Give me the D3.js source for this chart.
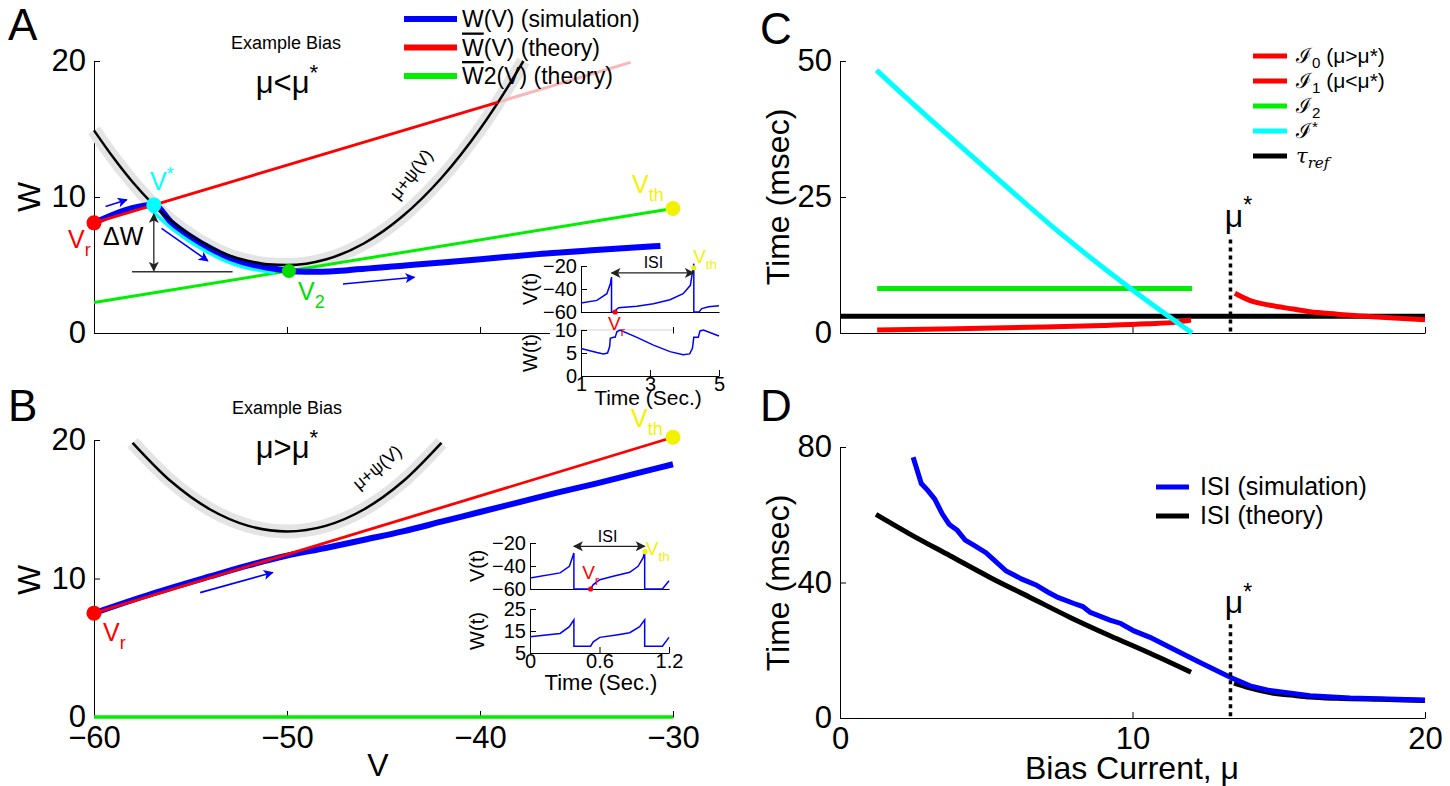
<!DOCTYPE html>
<html>
<head>
<meta charset="utf-8">
<script src="https://cdn.jsdelivr.net/npm/d3@7"></script>
<style>
  body { margin: 0; background: #fff; }
  text { font-family: "Liberation Sans", Arial, Helvetica, sans-serif; }
</style>
</head>
<body>
<svg id="fig" width="1450" height="786"></svg>
<script>
// ---------------- Panel A : example bias mu < mu* ----------------
const nullA_V = [-60, -59, -58, -57, -56, -55, -54, -53, -52, -51, -50, -49, -48, -46, -44, -42, -40, -38, -37.75];
const nullA_W = [14.9, 12.9, 11.1, 9.55, 8.25, 7.2, 6.35, 5.7, 5.3, 5.05, 5.0, 5.1, 5.4, 6.6, 8.6, 11.4, 15.0, 19.4, 20.0];
const simA_V = [-60, -56.9, -56, -55, -54, -53, -52, -51, -50, -49.5, -48.5, -47, -46.4, -44, -41.8, -39, -37, -34, -30.65];
const simA_W = [8.1, 9.42, 8.15, 7.1, 6.25, 5.55, 5.1, 4.8, 4.6, 4.52, 4.5, 4.6, 4.68, 4.95, 5.2, 5.55, 5.8, 6.1, 6.4];
const stableA_V = [-57, -56, -55, -54, -53, -52, -51, -50.5];
const stableA_W = [9.35, 8.05, 7.0, 6.15, 5.45, 5.0, 4.72, 4.62];
const theoryA_V = [-60, -39.05];
const theoryA_W = [8.1, 16.98];
const theoryA_fadeV = [-39.05, -32.2];
const theoryA_fadeW = [16.98, 19.9];
const theory2A_V = [-60, -30];
const theory2A_W = [2.24, 9.15];
const pointsA = { vr: [-60, 8.1], vstar: [-56.9, 9.42], v2: [-49.9, 4.55], vth: [-30, 9.15] };
const arrowsA = [[-59.4, 9.3, -58.3, 9.8], [-56.5, 7.7, -54.1, 5.3], [-47.1, 3.6, -43.4, 4.1]];

// inset A traces
const insetA_tV = [1, 1.46, 1.75, 1.85, 1.885, 1.885, 1.99, 2.02, 2.09, 2.62, 3.1, 3.58, 3.96, 4.17, 4.27, 4.27, 4.42, 4.5, 4.7, 5];
const insetA_V = [-52.2, -49.9, -44.1, -35.4, -29.6, -60, -60, -58, -56.2, -55.1, -52.8, -49.3, -44.1, -36.8, -18, -60, -60, -57, -55.5, -54.5];
const insetA_tW = [1, 1.46, 1.65, 1.77, 1.83, 1.85, 1.94, 1.99, 2.04, 2.13, 2.62, 3.1, 3.58, 3.96, 4.15, 4.23, 4.27, 4.4, 4.45, 4.55, 5];
const insetA_W = [6.0, 5.1, 4.8, 5.0, 6.4, 8.2, 8.4, 8.4, 9.6, 10.0, 8.4, 6.7, 5.3, 4.6, 4.8, 6.0, 8.4, 8.4, 9.8, 10.0, 8.7];

// ---------------- Panel B : example bias mu > mu* ----------------
const nullB_V = [-58, -56, -54, -52, -50, -48, -46, -44, -42];
const nullB_W = [19.8, 17.0, 15.0, 13.8, 13.4, 13.8, 15.0, 17.0, 19.8];
const simB_V = [-60, -57, -54, -52, -50, -48, -46, -44, -42, -40, -38, -36, -34, -32, -30];
const simB_W = [7.5, 8.9, 10.15, 10.95, 11.65, 12.2, 12.8, 13.4, 14.1, 14.8, 15.5, 16.2, 16.85, 17.55, 18.25];
const theoryB_V = [-60, -30];
const theoryB_W = [7.5, 20.2];
const theory2B_V = [-60, -30];
const theory2B_W = [0, 0];
const pointsB = { vr: [-60, 7.5], vth: [-30, 20.2] };
const arrowsB = [[-54.5, 8.98, -50.74, 10.44]];

// inset B traces
const insetB_tV = [0, 0.26, 0.34, 0.379, 0.379, 0.523, 0.546, 0.603, 0.718, 0.861, 0.933, 0.976, 0.99, 0.99, 1.143, 1.2];
const insetB_V = [-50.4, -46, -40.3, -28.7, -60, -60, -56.2, -51.9, -49, -45.5, -40.3, -33, -27.8, -60, -60, -52.8];
const insetB_tW = [0, 0.26, 0.34, 0.379, 0.379, 0.523, 0.546, 0.603, 0.746, 0.861, 0.947, 0.99, 0.99, 1.143, 1.2];
const insetB_W = [12.4, 13.9, 17.0, 20.1, 8.1, 8.1, 10.1, 12.1, 13.2, 14.2, 17.0, 20.1, 8.1, 8.1, 12.1];

// ---------------- Panel C : time components vs bias ----------------
const muStar = 13.35;
const i0_mu = [13.5, 14, 14.7, 15.5, 16.07, 17, 17.44, 18.5, 20];
const i0_T = [7.3, 6.0, 5.1, 4.4, 3.9, 3.45, 3.25, 2.9, 2.45];
const i1_mu = [1.27, 4, 7, 9, 10.5, 11.5, 12];
const i1_T = [0.55, 0.8, 1.1, 1.4, 1.7, 2.0, 2.4];
const i2_mu = [1.27, 12.04];
const i2_T = [8.2, 8.2];
const iStar_mu = [1.25, 3, 5.4, 7.54, 10, 12.04];
const iStar_T = [48.3, 39.7, 28.3, 18.3, 7.9, 0];
const tauRef_mu = [0, 20];
const tauRef_T = [3.1, 3.1];

// ---------------- Panel D : ISI vs bias ----------------
const isiSim_mu = [2.5, 2.78, 3.0, 3.24, 3.5, 3.73, 4.01, 4.28, 4.6, 4.99, 5.27, 5.68, 5.95, 6.22, 6.7, 7.1, 7.45, 8.0, 8.3, 8.55, 9.23, 9.6, 10.05, 10.6, 11.29, 12.24, 13.34, 14.02, 14.7, 16.07, 17.44, 20];
const isiSim_T = [77, 69.2, 67.2, 64.6, 60.2, 57.2, 55.4, 52.5, 50.9, 48.8, 46.6, 43.4, 42.2, 41, 39.3, 37.2, 35.6, 33.8, 32.9, 31.2, 28.9, 27.9, 25.7, 23.8, 20.8, 16.7, 12, 9.5, 8.1, 6.6, 5.9, 5.3];
const isiTh1_mu = [1.23, 2.39, 3.76, 5.13, 6.5, 7.87, 9.23, 10.6, 12.0];
const isiTh1_T = [60.1, 54.3, 47.9, 41.5, 35.6, 29.7, 24.3, 19.1, 13.5];
const isiTh2_mu = [13.47, 14.0, 14.7, 15.5, 16.07, 17, 18.5, 20];
const isiTh2_T = [10.3, 8.9, 7.5, 6.7, 6.2, 5.8, 5.5, 5.2];

// tick values
const ticksV = [-60, -50, -40, -30];
const ticksW = [0, 10, 20];
const ticksMu = [0, 10, 20];
const ticksC = [0, 25, 50];
const ticksD = [0, 40, 80];
const ticksInsetAV = [-60, -40, -20];
const ticksInsetAW = [0, 5, 10];
const ticksInsetAT = [1, 3, 5];
const ticksInsetBV = [-60, -40, -20];
const ticksInsetBW = [5, 15, 25];
const ticksInsetBT = [0, 0.6, 1.2];

// ---------------- drawing ----------------
const COL = { blue: "#0000ff", red: "#ff0000", green: "#00ee00", cyan: "#00ffff", yellow: "#f2f200", gray: "#e4e4e4", pink: "#f6b8b8" };
const fmt = d3.format("~g");
const svg = d3.select("#fig");
const defs = svg.append("defs");
function marker(id, color, w, h) {
  defs.append("marker").attr("id", id).attr("viewBox", "0 0 10 10").attr("refX", 9).attr("refY", 5)
    .attr("markerWidth", w).attr("markerHeight", h).attr("markerUnits", "userSpaceOnUse")
    .attr("orient", "auto-start-reverse")
    .append("path").attr("d", "M0,0 L10,5 L0,10 L2.5,5 Z").attr("fill", color);
}
marker("ahBlue", COL.blue, 14, 10);
marker("ahBlack", "#222", 13, 10);

function curve(g, xs, ys, X, Y, color, width, c) {
  return g.append("path").datum(d3.zip(xs, ys))
    .attr("d", d3.line().x(d => X(d[0])).y(d => Y(d[1])).curve(c || d3.curveLinear))
    .attr("fill", "none").attr("stroke", color).attr("stroke-width", width);
}
// text with sub/superscript pieces
function rich(g, x, y, parts, size, color, anchor, shiftScale) {
  const k0 = shiftScale || 1;
  const t = g.append("text").attr("x", x).attr("y", y).attr("font-size", size)
    .attr("fill", color).attr("text-anchor", anchor || "start");
  let shift = 0;
  parts.forEach(p => {
    const s = p[0], k = p[1] || "n";
    const target = k === "sub" ? size * 0.32 * k0 : k === "sup" ? -size * 0.42 * k0 : 0;
    const ts = t.append("tspan").text(s).attr("dy", target - shift);
    if (k !== "n") ts.attr("font-size", size * 0.72);
    if (p[2]) ts.attr("style", p[2]);
    shift = target;
  });
  return t;
}
function styleAxis(ag, size) {
  ag.attr("font-family", null).attr("font-size", null);
  ag.selectAll("text").attr("font-size", size).attr("fill", "#000");
  ag.selectAll("line").attr("stroke", "#000");
  ag.select(".domain").attr("stroke", "#000");
}
function leftAxis(g, Y, x0, vals, size, pad) {
  const ag = g.append("g").attr("transform", `translate(${x0},0)`)
    .call(d3.axisLeft(Y).tickValues(vals).tickSizeInner(-6).tickSizeOuter(0).tickPadding(pad || 7).tickFormat(fmt));
  styleAxis(ag, size);
  return ag;
}
function bottomAxis(g, X, y0, vals, size, labels, pad) {
  const ax = d3.axisBottom(X).tickValues(vals).tickSizeInner(-6).tickSizeOuter(0).tickPadding(pad || 8).tickFormat(fmt);
  if (!labels) ax.tickFormat("");
  const ag = g.append("g").attr("transform", `translate(0,${y0})`).call(ax);
  styleAxis(ag, size);
  return ag;
}
function arrow(g, x1, y1, x2, y2, color, w, id, both) {
  const l = g.append("line").attr("x1", x1).attr("y1", y1).attr("x2", x2).attr("y2", y2)
    .attr("stroke", color).attr("stroke-width", w).attr("marker-end", `url(#${id})`);
  if (both) l.attr("marker-start", `url(#${id})`);
}
function dot(g, x, y, r, color) {
  g.append("circle").attr("cx", x).attr("cy", y).attr("r", r).attr("fill", color);
}
function rotText(g, x, y, angle, size, s) {
  return g.append("text").attr("transform", `translate(${x},${y}) rotate(${angle})`)
    .attr("text-anchor", "middle").attr("font-size", size).text(s);
}

// ===== Panel A =====
const gA = svg.append("g");
const xA = d3.scaleLinear([-60, -30], [94, 673]);
const yA = d3.scaleLinear([0, 20], [333, 61]);
leftAxis(gA, yA, 94, ticksW, 31, 8);
bottomAxis(gA, xA, 333, ticksV, 30, false);
rotText(gA, 40, 197, -90, 32, "W");

curve(gA, nullA_V, nullA_W, xA, yA, COL.gray, 14, d3.curveMonotoneX);
curve(gA, theory2A_V, theory2A_W, xA, yA, COL.green, 3);
curve(gA, theoryA_fadeV, theoryA_fadeW, xA, yA, COL.pink, 3);
curve(gA, stableA_V, stableA_W, xA, yA, COL.cyan, 3.5, d3.curveMonotoneX).attr("transform", "translate(-2.5,2.5)");
curve(gA, simA_V, simA_W, xA, yA, COL.blue, 6, d3.curveMonotoneX);
curve(gA, nullA_V, nullA_W, xA, yA, "#000", 2.5, d3.curveMonotoneX);
curve(gA, theoryA_V, theoryA_W, xA, yA, COL.red, 2.8);

arrowsA.forEach(a => arrow(gA, xA(a[0]), yA(a[1]), xA(a[2]), yA(a[3]), COL.blue, 1.6, "ahBlue"));
// Delta W marker
arrow(gA, xA(pointsA.vstar[0]), yA(pointsA.vstar[1]) + 9, xA(pointsA.vstar[0]), yA(4.5) - 1, "#222", 1.3, "ahBlack", true);
gA.append("line").attr("x1", xA(-58.03)).attr("x2", xA(-52.82)).attr("y1", yA(4.5)).attr("y2", yA(4.5))
  .attr("stroke", "#333").attr("stroke-width", 1.5);

dot(gA, xA(pointsA.vr[0]), yA(pointsA.vr[1]), 7.5, COL.red);
dot(gA, xA(pointsA.vstar[0]), yA(pointsA.vstar[1]), 7.5, COL.cyan);
dot(gA, xA(pointsA.v2[0]), yA(pointsA.v2[1]), 7, "#00dd00");
dot(gA, xA(pointsA.vth[0]), yA(pointsA.vth[1]), 7.5, COL.yellow);

rich(gA, 68, 248, [["V"], ["r", "sub"]], 25, COL.red);
rich(gA, 150, 190, [["V"], ["*", "sup"]], 25, COL.cyan);
rich(gA, 103, 245, [["ΔW"]], 25, "#000");
rich(gA, 298, 300, [["V"], ["2", "sub"]], 25, "#00dd00");
rich(gA, 632, 193, [["V"], ["th", "sub"]], 25, COL.yellow);
rotText(gA, 416, 178, -52, 18, "μ+ψ(V)");

gA.append("text").attr("x", 286).attr("y", 49).attr("text-anchor", "middle").attr("font-size", 18).text("Example Bias");
rich(gA, 287, 93, [["μ<μ"], ["*", "sup"]], 31, "#000", "middle");

// legend A
const legA = [["W(V) (simulation)", COL.blue, false], ["W(V) (theory)", COL.red, true], ["W2(V) (theory)", COL.green, true]];
legA.forEach((d, i) => {
  const y = 19 + i * 28.5;
  gA.append("line").attr("x1", 404).attr("x2", 457).attr("y1", y).attr("y2", y).attr("stroke", d[1]).attr("stroke-width", 6);
  const t = gA.append("text").attr("x", 462).attr("y", y + 8).attr("font-size", 23);
  t.append("tspan").text(d[0].slice(0, 1)).attr("style", d[2] ? "text-decoration: overline" : null);
  t.append("tspan").text(d[0].slice(1));
});

// inset A
const gIA = svg.append("g");
const xIA = d3.scaleLinear([1, 5], [581, 719]);
const yIAV = d3.scaleLinear([-60, -20], [312, 266]);
const yIAW = d3.scaleLinear([0, 10], [376, 330]);
gIA.append("rect").attr("x", 550).attr("y", 330).attr("width", 123).attr("height", 8).attr("fill", "#fff");
gIA.append("line").attr("x1", 550).attr("x2", 673).attr("y1", 330).attr("y2", 330).attr("stroke", "#e2e2e2").attr("stroke-width", 1.5);
leftAxis(gIA, yIAV, 581, ticksInsetAV, 20, 4);
bottomAxis(gIA, xIA, 312, [], 16, false);
leftAxis(gIA, yIAW, 581, ticksInsetAW, 20, 4);
bottomAxis(gIA, xIA, 376, ticksInsetAT, 20, true, 1);
curve(gIA, insetA_tV, insetA_V, xIA, yIAV, COL.blue, 1.5);
curve(gIA, insetA_tW, insetA_W, xIA, yIAW, COL.blue, 1.5);
arrow(gIA, xIA(1.885), yIAV(-26), xIA(4.27), yIAV(-26), "#222", 1.3, "ahBlack", true);
gIA.append("text").attr("x", xIA(3.1)).attr("y", yIAV(-22)).attr("text-anchor", "middle").attr("font-size", 16).text("ISI");
dot(gIA, xIA(1.99), yIAV(-60), 2.6, COL.red);
dot(gIA, xIA(4.27), yIAV(-21.5), 2.6, COL.yellow);
rich(gIA, xIA(1.78), yIAV(-60) + 18, [["V"], ["r", "sub"]], 19, COL.red);
rich(gIA, xIA(4.25), yIAV(-17), [["V"], ["th", "sub"]], 19, COL.yellow);
rotText(gIA, 537, 289, -90, 20, "V(t)");
rotText(gIA, 537, 353, -90, 20, "W(t)");
gIA.append("text").attr("x", 648).attr("y", 405).attr("text-anchor", "middle").attr("font-size", 21).text("Time (Sec.)");

// ===== Panel B =====
const gB = svg.append("g");
const xB = d3.scaleLinear([-60, -30], [94, 673]);
const yB = d3.scaleLinear([0, 20], [717, 440]);
leftAxis(gB, yB, 94, ticksW, 31, 8);
bottomAxis(gB, xB, 717, ticksV, 31, true, 9);
rotText(gB, 40, 580, -90, 32, "W");
gB.append("text").attr("x", 378).attr("y", 776).attr("text-anchor", "middle").attr("font-size", 32).text("V");

curve(gB, nullB_V, nullB_W, xB, yB, COL.gray, 14, d3.curveMonotoneX);
curve(gB, nullB_V, nullB_W, xB, yB, "#000", 2.5, d3.curveMonotoneX);
curve(gB, simB_V, simB_W, xB, yB, COL.blue, 6, d3.curveMonotoneX);
curve(gB, theoryB_V, theoryB_W, xB, yB, COL.red, 2.8);
curve(gB, theory2B_V, theory2B_W, xB, yB, COL.green, 3.5);
arrowsB.forEach(a => arrow(gB, xB(a[0]), yB(a[1]), xB(a[2]), yB(a[3]), COL.blue, 1.6, "ahBlue"));
dot(gB, xB(pointsB.vr[0]), yB(pointsB.vr[1]), 7.5, COL.red);
dot(gB, xB(pointsB.vth[0]), yB(pointsB.vth[1]), 7.5, COL.yellow);
rich(gB, 103, 641, [["V"], ["r", "sub"]], 25, COL.red);
rich(gB, 631, 427, [["V"], ["th", "sub"]], 25, COL.yellow);
rotText(gB, 381, 472, -40, 18, "μ+ψ(V)");
gB.append("text").attr("x", 287).attr("y", 414).attr("text-anchor", "middle").attr("font-size", 18).text("Example Bias");
rich(gB, 287, 458, [["μ>μ"], ["*", "sup"]], 31, "#000", "middle");

// inset B
const gIB = svg.append("g");
const xIB = d3.scaleLinear([0, 1.2], [530, 669]);
const yIBV = d3.scaleLinear([-60, -20], [589, 543]);
const yIBW = d3.scaleLinear([5, 25], [653, 609]);
leftAxis(gIB, yIBV, 530, ticksInsetBV, 20, 4);
bottomAxis(gIB, xIB, 589, [], 16, false);
leftAxis(gIB, yIBW, 530, ticksInsetBW, 20, 4);
bottomAxis(gIB, xIB, 653, ticksInsetBT, 20, true, 1);
curve(gIB, insetB_tV, insetB_V, xIB, yIBV, COL.blue, 1.5, d3.curveLinear);
curve(gIB, insetB_tW, insetB_W, xIB, yIBW, COL.blue, 1.5, d3.curveLinear);
arrow(gIB, xIB(0.379), yIBV(-22.9), xIB(0.99), yIBV(-22.9), "#222", 1.3, "ahBlack", true);
gIB.append("text").attr("x", xIB(0.67)).attr("y", yIBV(-19)).attr("text-anchor", "middle").attr("font-size", 16).text("ISI");
dot(gIB, xIB(0.523), yIBV(-60), 2.6, COL.red);
dot(gIB, xIB(0.993), yIBV(-27.5), 2.6, COL.yellow);
rich(gIB, xIB(0.45), yIBV(-51), [["V"], ["r", "sub"]], 19, COL.red);
rich(gIB, xIB(1.0), yIBV(-30), [["V"], ["th", "sub"]], 19, COL.yellow);
rotText(gIB, 484, 566, -90, 20, "V(t)");
rotText(gIB, 484, 631, -90, 20, "W(t)");
gIB.append("text").attr("x", 601).attr("y", 690).attr("text-anchor", "middle").attr("font-size", 22).text("Time (Sec.)");

// ===== Panel C =====
const gC = svg.append("g");
const xC = d3.scaleLinear([0, 20], [840, 1425]);
const yC = d3.scaleLinear([0, 50], [333, 61]);
leftAxis(gC, yC, 840, ticksC, 31, 8);
bottomAxis(gC, xC, 333, ticksMu, 30, false);
rotText(gC, 789, 197, -90, 32, "Time (msec)");
curve(gC, tauRef_mu, tauRef_T, xC, yC, "#000", 5);
curve(gC, i1_mu, i1_T, xC, yC, COL.red, 5, d3.curveMonotoneX);
curve(gC, i2_mu, i2_T, xC, yC, COL.green, 5);
curve(gC, iStar_mu, iStar_T, xC, yC, COL.cyan, 5, d3.curveNatural);
curve(gC, i0_mu, i0_T, xC, yC, COL.red, 5, d3.curveMonotoneX);
gC.append("line").attr("x1", xC(muStar)).attr("x2", xC(muStar)).attr("y1", yC(17.2)).attr("y2", yC(0))
  .attr("stroke", "#000").attr("stroke-width", 3.5).attr("stroke-dasharray", "4,4");
rich(gC, xC(muStar) + 8, yC(19.5), [["μ"], ["*", "sup"]], 32, "#000", "middle");

// legend C
const legC = [
  [["ℐ"], ["0", "sub"], [" (μ>μ*)"]],
  [["ℐ"], ["1", "sub"], [" (μ<μ*)"]],
  [["ℐ"], ["2", "sub"]],
  [["ℐ"], ["*", "sup"]],
  [["τ", "n", "font-style:italic;font-family:'DejaVu Serif',serif"], ["ref", "sub", "font-style:italic;font-family:'DejaVu Serif',serif"]]
];
const legCcol = [COL.red, COL.red, COL.green, COL.cyan, "#000"];
legC.forEach((parts, i) => {
  const y = 56 + i * 25;
  gC.append("line").attr("x1", 1253).attr("x2", 1287).attr("y1", y).attr("y2", y).attr("stroke", legCcol[i]).attr("stroke-width", 5);
  rich(gC, 1296, y + 7, parts, 21, "#000", "start", 0.7);
});

// ===== Panel D =====
const gD = svg.append("g");
const xD = d3.scaleLinear([0, 20], [840, 1425]);
const yD = d3.scaleLinear([0, 80], [718, 447]);
leftAxis(gD, yD, 840, ticksD, 31, 8);
bottomAxis(gD, xD, 718, ticksMu, 31, true, 9);
rotText(gD, 789, 583, -90, 32, "Time (msec)");
gD.append("text").attr("x", 1132).attr("y", 779).attr("text-anchor", "middle").attr("font-size", 32).text("Bias Current, μ");
curve(gD, isiTh1_mu, isiTh1_T, xD, yD, "#000", 5, d3.curveMonotoneX);
curve(gD, isiTh2_mu, isiTh2_T, xD, yD, "#000", 5, d3.curveMonotoneX);
curve(gD, isiSim_mu, isiSim_T, xD, yD, COL.blue, 5);
gD.append("line").attr("x1", xD(muStar)).attr("x2", xD(muStar)).attr("y1", yD(27.7)).attr("y2", yD(0))
  .attr("stroke", "#000").attr("stroke-width", 3.5).attr("stroke-dasharray", "4,4");
rich(gD, xD(muStar) + 8, yD(31), [["μ"], ["*", "sup"]], 32, "#000", "middle");

const legD = [["ISI (simulation)", COL.blue], ["ISI (theory)", "#000"]];
legD.forEach((d, i) => {
  const y = 487 + i * 29;
  gD.append("line").attr("x1", 1156).attr("x2", 1189).attr("y1", y).attr("y2", y).attr("stroke", d[1]).attr("stroke-width", 5);
  gD.append("text").attr("x", 1200).attr("y", y + 8).attr("font-size", 25).text(d[0]);
});

// panel letters
[["A", 8, 40], ["B", 8, 421], ["C", 760, 44], ["D", 760, 421]].forEach(d => {
  svg.append("text").attr("x", d[1]).attr("y", d[2]).attr("font-size", 44).text(d[0]);
});
</script>
</body>
</html>
